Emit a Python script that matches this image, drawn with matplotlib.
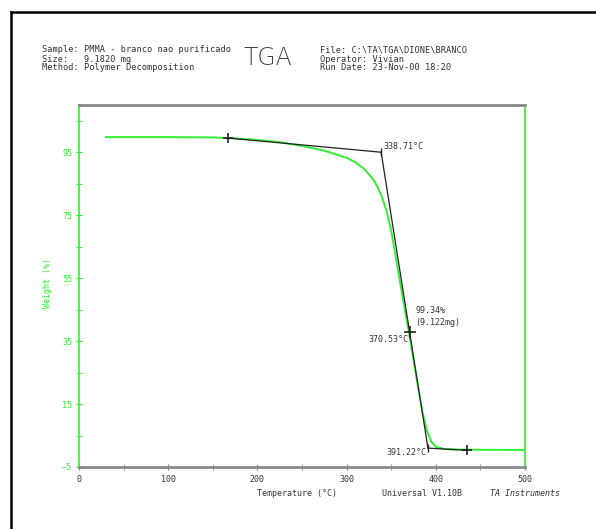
import numpy as np
import matplotlib
matplotlib.use('Agg')
from matplotlib import pyplot as plt
from matplotlib.lines import Line2D

# TGA curve
temp = [30, 100, 150, 175, 200, 225, 250, 275, 300, 310, 320, 330, 335, 340, 345, 350, 355,
        360, 365, 370, 375, 380, 385, 390, 395, 400, 410, 430, 500]
weight = [99.8, 99.8, 99.7, 99.4, 98.9, 98.2, 97.0, 95.5, 93.2, 91.8, 89.6, 86.3, 83.8, 80.5,
          76, 70, 62, 53.5, 45.5, 37.5, 29, 20.5, 12.5, 6.5, 3.0, 1.4, 0.7, 0.5, 0.4]

# tangent construction
upper_tan_x = [167, 338.71]
upper_tan_y = [99.5, 95.0]
steep_x = [338.71, 391.22]
steep_y = [95.0, 1.0]
lower_tan_x = [391.22, 435]
lower_tan_y = [1.0, 0.3]
mid_x = 370.53
mid_y = 38.0

yticks = [-5, 15, 35, 55, 75, 95]
xticks = [0, 100, 200, 300, 400, 500]

green = '#33ee33'
gray = '#888888'
txt = '#333333'
mono = 'DejaVu Sans Mono'

fig = plt.figure(figsize=(5.96, 5.29), dpi=100)
ax = fig.add_axes([79/596, 1-467/529, (525-79)/596, (467-105)/529])

ax.plot(temp, weight, color=green, lw=1.4)
ax.plot(upper_tan_x, upper_tan_y, color='#222222', lw=0.9)
ax.plot(steep_x, steep_y, color='#222222', lw=0.9)
ax.plot(lower_tan_x, lower_tan_y, color='#222222', lw=0.9)
ax.plot([upper_tan_x[0]], [upper_tan_y[0]], marker='+', color='#222222', ms=7, mew=1.2)
ax.plot([lower_tan_x[1]], [lower_tan_y[1]], marker='+', color='#222222', ms=7, mew=1.2)
ax.plot([mid_x], [mid_y], marker='+', color='#222222', ms=8, mew=1.2)
ax.plot([steep_x[0]], [steep_y[0]], marker='|', color='#222222', ms=6, mew=1)
ax.plot([steep_x[1]], [steep_y[1]], marker='|', color='#222222', ms=6, mew=1)

ax.text(340.8, 96.9, '338.71°C', fontsize=6, family=mono, color=txt, ha='left', va='center')
ax.text(377.5, 42.8, '99.34%\n(9.122mg)', fontsize=6, family=mono, color=txt,
        ha='left', va='center', linespacing=1.3)
ax.text(368.8, 35.6, '370.53°C', fontsize=6, family=mono, color=txt, ha='right', va='center')
ax.text(390, -0.5, '391.22°C', fontsize=6, family=mono, color=txt, ha='right', va='center')

ax.set_xlim(0, 500)
ax.set_ylim(-5, 110)
ax.set_xticks(xticks)
ax.set_xticks(np.arange(50, 500, 100), minor=True)
ax.set_yticks(yticks)
ax.set_yticks(np.arange(5, 110, 20), minor=True)
ax.tick_params(axis='x', which='both', direction='inout', length=4, color=gray,
               labelsize=6, labelcolor=txt, pad=4)
ax.tick_params(axis='y', which='both', direction='inout', length=4, color=green,
               labelsize=6, labelcolor=green, pad=3)
for lab in ax.get_xticklabels() + ax.get_yticklabels():
    lab.set_family(mono)

ax.spines['left'].set_color(green)
ax.spines['right'].set_color(green)
ax.spines['top'].set_color(gray)
ax.spines['bottom'].set_color(gray)
ax.spines['top'].set_linewidth(2)
ax.spines['bottom'].set_linewidth(2)
ax.spines['left'].set_linewidth(1.2)
ax.spines['right'].set_linewidth(1.2)

fig.text(48/596, 1-283/529, 'Weight (%)', rotation=90, fontsize=6, family=mono,
         color=green, ha='center', va='center')
fig.text(297/596, 1-494/529, 'Temperature (°C)', fontsize=6, family=mono, color=txt,
         ha='center', va='center')
fig.text(382/596, 1-494/529, 'Universal V1.10B ', fontsize=6, family=mono, color=txt,
         ha='left', va='center')
fig.text(490/596, 1-494/529, 'TA Instruments', fontsize=6, family=mono, color=txt,
         ha='left', va='center', style='italic')

# header
hs = 6.2
fig.text(42/596, 1-50/529, 'Sample: PMMA - branco nao purificado', fontsize=hs, family=mono,
         color=txt, ha='left', va='center')
fig.text(42/596, 1-59/529, 'Size:   9.1820 mg', fontsize=hs, family=mono,
         color=txt, ha='left', va='center')
fig.text(42/596, 1-68/529, 'Method: Polymer Decomposition', fontsize=hs, family=mono,
         color=txt, ha='left', va='center')
fig.text(268/596, 1-58/529, 'TGA', fontsize=17, color='#444444', ha='center', va='center',
         fontweight='light')
fig.text(320/596, 1-50/529, 'File: C:\\TA\\TGA\\DIONE\\BRANCO', fontsize=hs, family=mono,
         color=txt, ha='left', va='center')
fig.text(320/596, 1-59/529, 'Operator: Vivian', fontsize=hs, family=mono,
         color=txt, ha='left', va='center')
fig.text(320/596, 1-68/529, 'Run Date: 23-Nov-00 18:20', fontsize=hs, family=mono,
         color=txt, ha='left', va='center')

# outer frame
fig.add_artist(Line2D([11/596, 1.0], [1-12/529, 1-12/529], color='black', lw=1.8,
                      transform=fig.transFigure))
fig.add_artist(Line2D([11/596, 11/596], [1-12/529, 0.0], color='black', lw=1.8,
                      transform=fig.transFigure))

fig.savefig('out.png', dpi=100)
